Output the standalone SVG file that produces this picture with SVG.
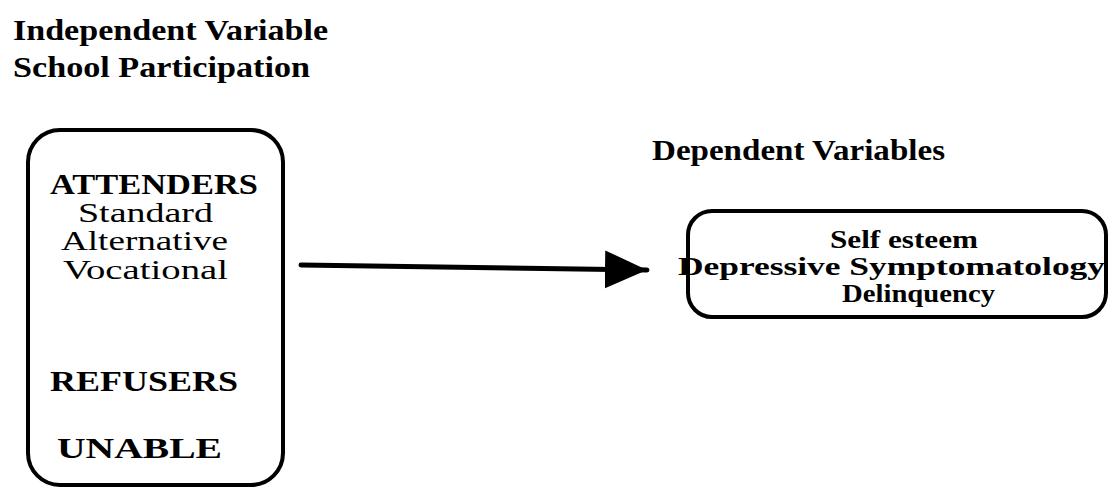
<svg xmlns="http://www.w3.org/2000/svg" width="1109" height="489" viewBox="0 0 1109 489">
<style>
text{font-family:"Liberation Serif","Times New Roman",serif;fill:#000}
.b{font-weight:bold}
.box{fill:none;stroke:#000;stroke-width:4}
</style>
<defs>
<marker id="ah" markerUnits="userSpaceOnUse" markerWidth="44" markerHeight="40" refX="42" refY="19" orient="auto">
<path d="M0,0 L42,19 L0,38 Z" fill="#000"/>
</marker>
</defs>
<g id="title">
<text class="b" x="13" y="40" font-size="30" textLength="315" lengthAdjust="spacingAndGlyphs">Independent Variable</text>
<text class="b" x="13" y="77" font-size="30" textLength="297" lengthAdjust="spacingAndGlyphs">School Participation</text>
</g>
<g id="dep-title">
<text class="b" x="652" y="160" font-size="30" textLength="293" lengthAdjust="spacingAndGlyphs">Dependent Variables</text>
</g>
<g id="independent">
<rect class="box" x="28" y="130" width="255" height="355" rx="32" ry="32"/>
<text class="b" x="50" y="194" font-size="29" textLength="208" lengthAdjust="spacingAndGlyphs">ATTENDERS</text>
<text x="78" y="222" font-size="28" textLength="135" lengthAdjust="spacingAndGlyphs">Standard</text>
<text x="61" y="250" font-size="28" textLength="167" lengthAdjust="spacingAndGlyphs">Alternative</text>
<text x="63" y="279" font-size="28" textLength="165" lengthAdjust="spacingAndGlyphs">Vocational</text>
<text class="b" x="50" y="391" font-size="29" textLength="188" lengthAdjust="spacingAndGlyphs">REFUSERS</text>
<text class="b" x="57" y="458" font-size="29" textLength="165" lengthAdjust="spacingAndGlyphs">UNABLE</text>
</g>
<g id="dependent">
<rect class="box" x="688" y="211" width="418" height="106" rx="24" ry="24"/>
<text class="b" x="830" y="248" font-size="25" textLength="148" lengthAdjust="spacingAndGlyphs">Self esteem</text>
<text class="b" x="678" y="275" font-size="25" textLength="427" lengthAdjust="spacingAndGlyphs">Depressive Symptomatology</text>
<text class="b" x="842" y="302" font-size="25" textLength="153" lengthAdjust="spacingAndGlyphs">Delinquency</text>
</g>
<g id="connectors">
<line x1="301" y1="265" x2="647" y2="270" stroke="#000" stroke-width="5" stroke-linecap="round" marker-end="url(#ah)"/>
</g>
</svg>
